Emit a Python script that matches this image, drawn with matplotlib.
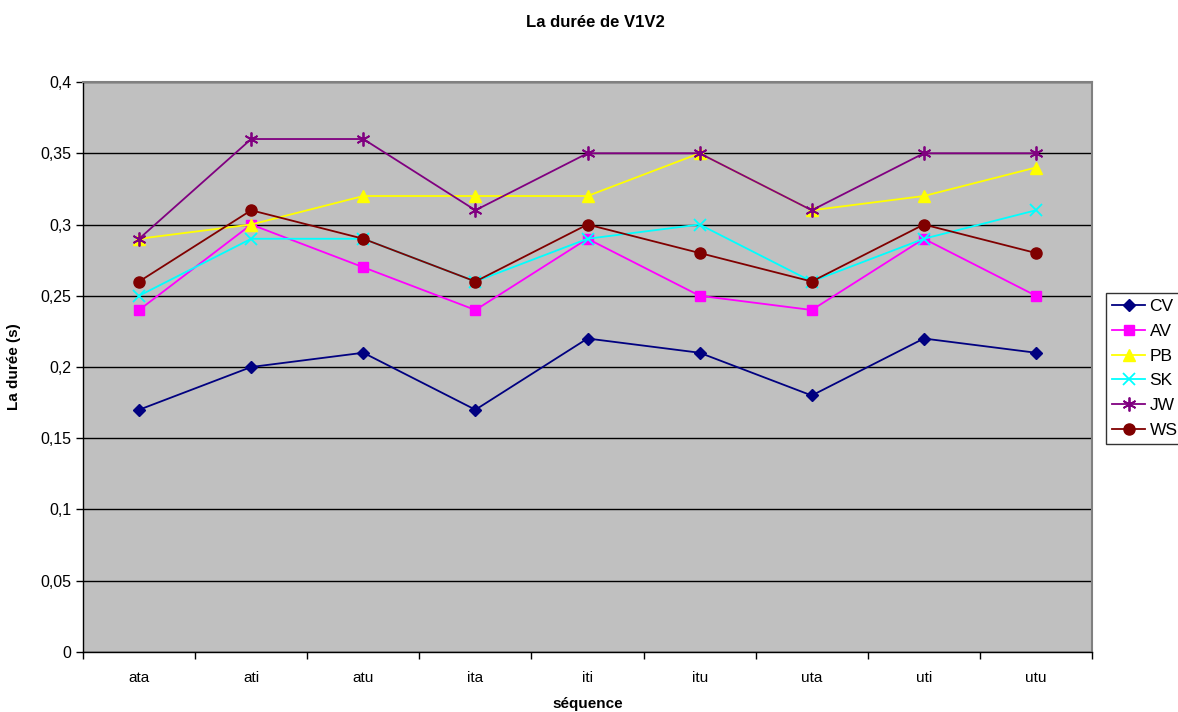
import numpy as np
import matplotlib
matplotlib.use("Agg")
import matplotlib.pyplot as plt
from matplotlib.ticker import FuncFormatter, MultipleLocator

plt.rcParams["font.family"] = ["Liberation Sans", "DejaVu Sans"]

sequences = ["ata", "ati", "atu", "ita", "iti", "itu", "uta", "uti", "utu"]

cv = [0.17, 0.20, 0.21, 0.17, 0.22, 0.21, 0.18, 0.22, 0.21]
av = [0.24, 0.30, 0.27, 0.24, 0.29, 0.25, 0.24, 0.29, 0.25]
pb = [0.29, 0.30, 0.32, 0.32, 0.32, 0.35, 0.31, 0.32, 0.34]
sk = [0.25, 0.29, 0.29, 0.26, 0.29, 0.30, 0.26, 0.29, 0.31]
jw = [0.29, 0.36, 0.36, 0.31, 0.35, 0.35, 0.31, 0.35, 0.35]
ws = [0.26, 0.31, 0.29, 0.26, 0.30, 0.28, 0.26, 0.30, 0.28]

series = [
    ("CV", cv, "#000080", "D", 6),
    ("AV", av, "#FF00FF", "s", 7),
    ("PB", pb, "#FFFF00", "^", 8),
    ("SK", sk, "#00FFFF", "x", 8),
    ("JW", jw, "#800080", (6, 2, 0), 10),
    ("WS", ws, "#800000", "o", 8),
]

fig = plt.figure(figsize=(11.78, 7.12), dpi=100)
ax = fig.add_axes([0.0705, 0.0843, 0.8565, 0.8005])
ax.set_facecolor("#C0C0C0")

x = np.arange(len(sequences))
for name, vals, color, marker, ms in series:
    kw = dict(markeredgecolor=color, markerfacecolor=color)
    if marker in ("x",) or isinstance(marker, tuple):
        kw["markeredgewidth"] = 1.3
    ax.plot(x, vals, color=color, marker=marker, markersize=ms,
            linewidth=1.3, label=name, **kw)

ax.set_xlim(-0.5, len(sequences) - 0.5)
ax.set_ylim(0, 0.4)
ax.yaxis.set_major_locator(MultipleLocator(0.05))
ax.yaxis.set_major_formatter(
    FuncFormatter(lambda v, _: ("%g" % round(v, 2)).replace(".", ",")))
ax.grid(axis="y", color="black", linewidth=1)
ax.set_axisbelow(True)

ax.set_xticks(x)
ax.set_xticklabels(sequences)
ax.tick_params(axis="x", length=0, pad=14, labelsize=11)
ax.set_xticks(np.arange(-0.5, len(sequences)), minor=True)
ax.tick_params(axis="x", which="minor", length=5, width=1, direction="out")
ax.tick_params(axis="y", length=5, width=1, direction="out", labelsize=11.5)

for side in ("top", "right"):
    ax.spines[side].set_color("#808080")
    ax.spines[side].set_linewidth(1.5)
for side in ("left", "bottom"):
    ax.spines[side].set_color("black")
    ax.spines[side].set_linewidth(1)

ax.set_xlabel("séquence", fontsize=11, fontweight="bold", labelpad=8)
ax.set_ylabel("La durée (s)", fontsize=11, fontweight="bold", labelpad=14)
fig.suptitle("La durée de V1V2", x=0.505, y=0.979, fontsize=12,
             fontweight="bold")

leg = fig.legend(loc="upper left", bbox_to_anchor=(0.939, 0.589),
                 frameon=True, fancybox=False, fontsize=12.5,
                 handlelength=1.9, handletextpad=0.25, labelspacing=0.56,
                 borderpad=0.35, borderaxespad=0)
leg.get_frame().set_edgecolor("black")
leg.get_frame().set_linewidth(1)

fig.savefig("out.png", dpi=100)
